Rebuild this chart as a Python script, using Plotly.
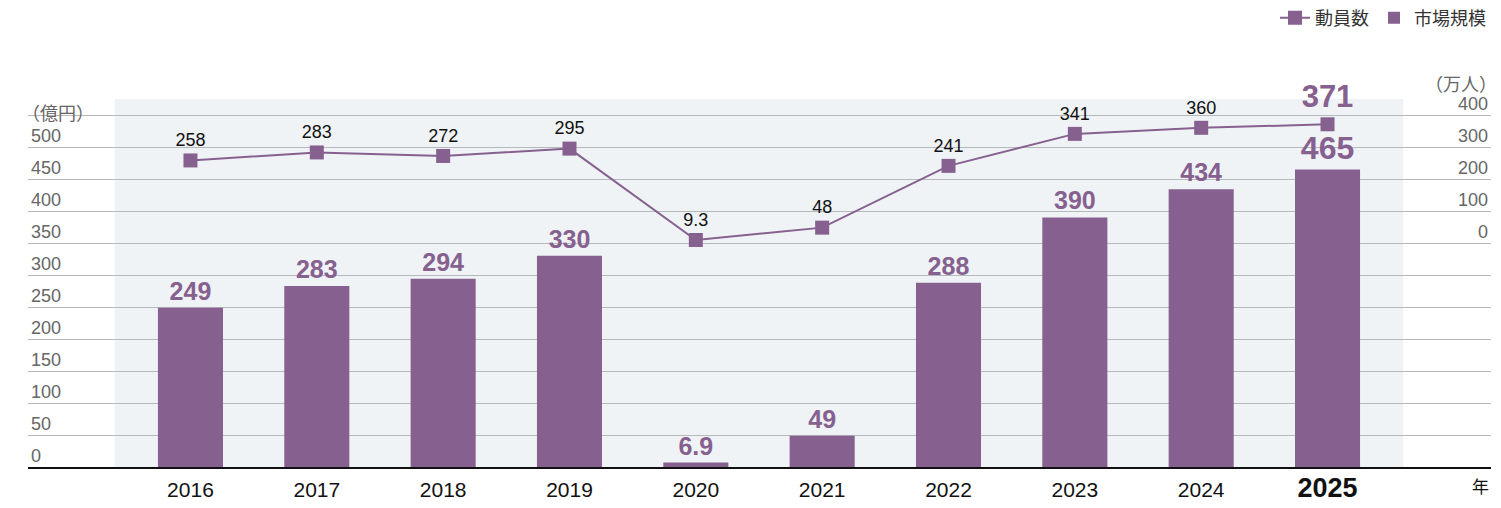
import plotly.graph_objects as go

years = [2016, 2017, 2018, 2019, 2020, 2021, 2022, 2023, 2024, 2025]
year_labels = ["2016", "2017", "2018", "2019", "2020", "2021", "2022", "2023", "2024",
               "<b><span style='font-size:27px'>2025</span></b>"]
market_size = [249, 283, 294, 330, 6.9, 49, 288, 390, 434, 465]      # 億円
market_text = ["249", "283", "294", "330", "6.9", "49", "288", "390", "434", "465"]
attendance = [258, 283, 272, 295, 9.3, 48, 241, 341, 360, 371]       # 万人
attendance_text = ["258", "283", "272", "295", "9.3", "48", "241", "341", "360", "<b>371</b>"]

left_ticks = [0, 50, 100, 150, 200, 250, 300, 350, 400, 450, 500, 550]
left_ticktext = ["0", "50", "100", "150", "200", "250", "300", "350", "400", "450", "500", ""]
right_ticks = [0, 100, 200, 300, 400]
right_ticktext = ["0", "100", "200", "300", "400"]

PURPLE = "#86608E"
FONT = "Liberation Sans, Arial, sans-serif"
CJK = "Noto Sans CJK JP, sans-serif"

fig = go.Figure()

fig.add_trace(go.Scatter(
    x=years, y=attendance, yaxis="y2", name="動員数",
    mode="lines+markers+text",
    line=dict(color=PURPLE, width=2),
    marker=dict(symbol="square", size=14, color=PURPLE),
    text=attendance_text, textposition="top center",
    textfont=dict(family=FONT,
                  size=[18] * 9 + [31],
                  color=["#111111"] * 9 + [PURPLE]),
    cliponaxis=False,
))

fig.add_trace(go.Bar(
    x=years, y=market_size, name="市場規模",
    width=0.515,
    marker=dict(color=PURPLE, line=dict(width=0)),
    text=["<b>%s</b>" % t for t in market_text], textposition="outside",
    textfont=dict(family=FONT, size=[25] * 9 + [32], color=PURPLE),
    constraintext="none", cliponaxis=False,
))

fig.add_shape(type="rect", xref="x", yref="paper",
              x0=2015.4, x1=2025.6, y0=0, y1=1,
              fillcolor="#EFF3F6", line=dict(width=0), layer="below")

fig.update_layout(
    width=1501, height=508,
    margin=dict(l=28, r=10, t=99, b=41, autoexpand=False),
    plot_bgcolor="white", paper_bgcolor="white",
    showlegend=True,
    legend=dict(orientation="h", x=1.0, xanchor="right", y=1.22, yanchor="middle",
                font=dict(family=CJK, size=18, color="#333333"),
                bgcolor="rgba(0,0,0,0)", traceorder="normal"),
    xaxis=dict(range=[2014.714, 2026.294], tickvals=years, ticktext=year_labels,
               showgrid=False, zeroline=False,
               showline=True, linecolor="#111111", linewidth=1.5,
               ticks="", ticklabelstandoff=3,
               tickfont=dict(family=FONT, size=21, color="#111111")),
    yaxis=dict(range=[0, 575], tickvals=left_ticks, ticktext=left_ticktext,
               showgrid=True, gridcolor="#B6B9BC", gridwidth=1, zeroline=False,
               ticklabelposition="inside", ticklabelshift=-11, ticklabeloverflow="allow",
               tickfont=dict(family=FONT, size=18, color="#666666")),
    yaxis2=dict(range=[-700, 450], overlaying="y", side="right",
                tickvals=right_ticks, ticktext=right_ticktext,
                showgrid=False, zeroline=False,
                ticklabelposition="inside", ticklabelshift=-11, ticklabeloverflow="allow",
                tickfont=dict(family=FONT, size=18, color="#666666")),
)

fig.add_annotation(text="（億円）", xref="paper", yref="paper", x=0.0, y=1.0 - (112 - 99) / 368,
                   xanchor="left", yanchor="middle", showarrow=False, xshift=-8,
                   font=dict(family=CJK, size=18, color="#666666"))
fig.add_annotation(text="（万人）", xref="paper", yref="paper", x=1.0, y=1.0 + (99 - 83) / 368,
                   xanchor="right", yanchor="middle", showarrow=False, xshift=8,
                   font=dict(family=CJK, size=18, color="#666666"))
fig.add_annotation(text="年", xref="paper", yref="paper", x=1.0, y=-(485 - 467) / 368,
                   xanchor="right", yanchor="middle", showarrow=False,
                   font=dict(family=CJK, size=17, color="#111111"))

fig.write_html("out.html", config={"displayModeBar": False},
               post_script="document.body.style.margin='0';document.body.style.overflow='hidden';")
